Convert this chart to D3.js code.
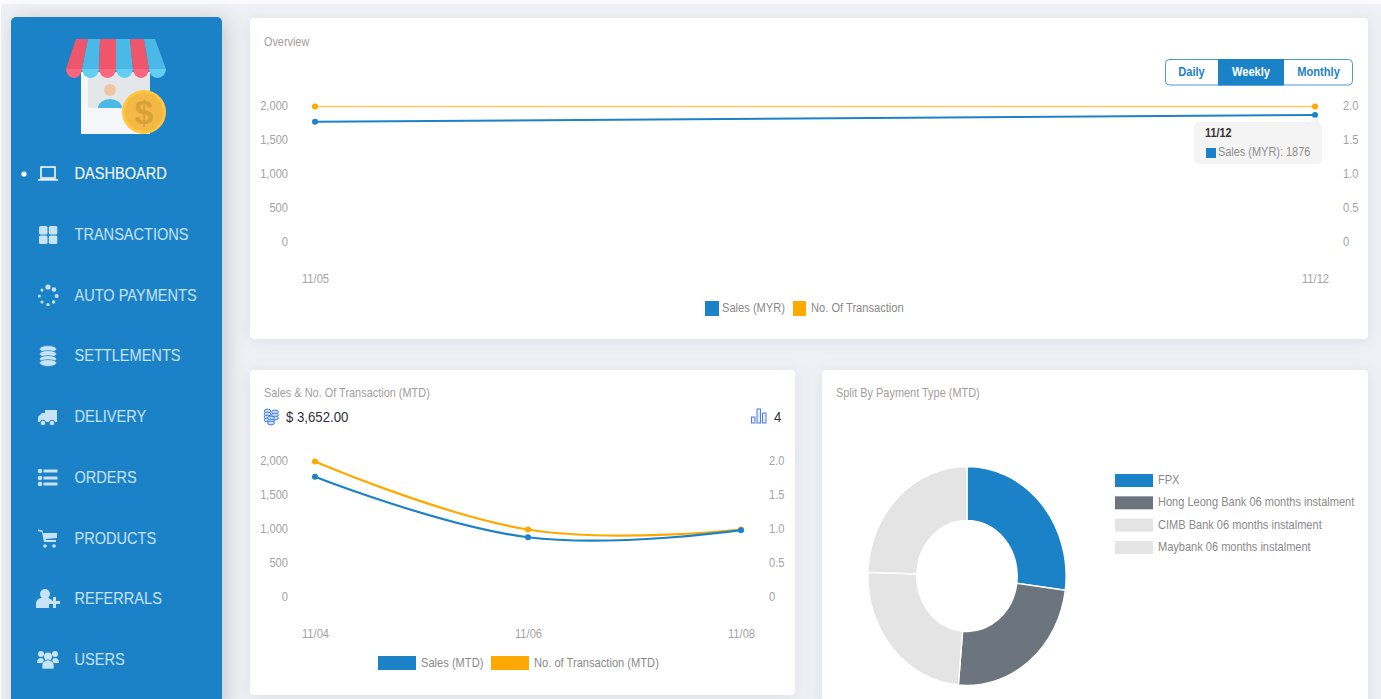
<!DOCTYPE html>
<html>
<head>
<meta charset="utf-8">
<script src="https://cdnjs.cloudflare.com/ajax/libs/d3/7.8.5/d3.min.js"></script>
<style>
html, body { margin: 0; padding: 0; background: #f0f1f6; overflow: hidden; }
svg { display: block; font-family: "Liberation Sans", Arial, sans-serif; }
.card { filter: drop-shadow(0 2px 8px rgba(60, 70, 100, 0.10)); }
.side { filter: drop-shadow(4px 2px 10px rgba(40, 50, 70, 0.22)); }
.axis path, .axis line { display: none; }
</style>
</head>
<body>
<svg id="chart" width="1381" height="699"></svg>
<script>
var menuLabels = ["DASHBOARD", "TRANSACTIONS", "AUTO PAYMENTS", "SETTLEMENTS", "DELIVERY", "ORDERS", "PRODUCTS", "REFERRALS", "USERS"];

var overviewDates = ["11/05", "11/12"];
var overviewSales = [1776, 1876];
var overviewCount = [2, 2];

var mtdDates = ["11/04", "11/06", "11/08"];
var mtdSales = [1776, 886, 990];
var mtdCount = [2, 1, 1];

var salesTicks = [0, 500, 1000, 1500, 2000];
var countTicks = [0, 0.5, 1, 1.5, 2];

var rangeButtons = ["Daily", "Weekly", "Monthly"];

var payTypes = ["FPX", "Hong Leong Bank 06 months instalment", "CIMB Bank 06 months instalment", "Maybank 06 months instalment"];
var payValues = [97.5, 87.5, 87, 88];
var payColors = ["#1c82c8", "#6c757d", "#e4e4e4", "#e4e4e4"];

var BLUE = "#1c82c8", ORANGE = "#ffa800", GREY = "#a3a3a3";
// the reference screenshot is squeezed horizontally, text follows it
var SQUEEZE = 0.905;

var svg = d3.select("#chart");

function label(g, x, y, str, size, fill, anchor, weight) {
	return g.append("text")
		.attr("transform", "translate(" + x + "," + y + ") scale(" + SQUEEZE + ",1)")
		.attr("font-size", size)
		.attr("fill", fill)
		.attr("text-anchor", anchor || "start")
		.attr("font-weight", weight || "normal")
		.text(str);
}

function box(g, x, y, w, h, r, fill) {
	return g.append("rect").attr("x", x).attr("y", y).attr("width", w).attr("height", h).attr("rx", r).attr("fill", fill);
}

// page background and cards
box(svg, 0, 0, 1381, 4, 0, "#fbfbfd");
box(svg, 0, 0, 1, 699, 0, "#ffffff");
box(svg.append("g").attr("class", "card"), 250, 18, 1118, 321, 4, "#fff");
box(svg.append("g").attr("class", "card"), 250, 370, 545, 325, 4, "#fff");
box(svg.append("g").attr("class", "card"), 822, 370, 546, 340, 4, "#fff");
box(svg.append("g").attr("class", "side"), 11, 17, 211, 700, 5, BLUE);

// shop logo
function drawLogo() {
	var g = svg.append("g");
	box(g, 81, 72, 69, 62, 0, "#f4f6f9");
	box(g, 88, 72, 62, 36, 2, "#e3e7ea");
	g.append("circle").attr("cx", 110).attr("cy", 90).attr("r", 6).attr("fill", "#f0c6a2");
	g.append("path").attr("d", "M98,108 A12,9 0 0 1 122,108 Z").attr("fill", "#4ab9e8");
	var tops = [76, 88, 100, 116, 130, 144, 155];
	var bots = [66, 82, 99, 116, 133, 149, 166];
	for (var i = 0; i < 6; i++) {
		var c = i % 2 ? "#4ab9e8" : "#ef566b";
		var c2 = i % 2 ? "#62cff0" : "#f8677f";
		var w = (bots[i + 1] - bots[i]) / 2;
		g.append("path").attr("d", "M" + tops[i] + ",39 L" + tops[i + 1] + ",39 L" + bots[i + 1] + ",69 L" + bots[i] + ",69 Z").attr("fill", c);
		g.append("path").attr("d", "M" + bots[i] + ",69 L" + bots[i + 1] + ",69 A" + w + ",9 0 0 1 " + bots[i] + ",69 Z").attr("fill", c2);
	}
	g.append("circle").attr("cx", 144).attr("cy", 112).attr("r", 22).attr("fill", "#fdc741");
	g.append("circle").attr("cx", 144).attr("cy", 112).attr("r", 19).attr("fill", "#f4b944");
	g.append("text").attr("x", 144).attr("y", 124).attr("font-size", 34).attr("font-weight", "bold").attr("fill", "#d9a13c").attr("text-anchor", "middle").text("$");
}
drawLogo();

// sidebar icons, each drawn around its own centre
var menuIcons = [
	function (g, c) {
		g.append("rect").attr("x", -7).attr("y", -7).attr("width", 14).attr("height", 11).attr("fill", "none").attr("stroke", c).attr("stroke-width", 1.5);
		box(g, -10, 5, 20, 1.6, 0, c);
	},
	function (g, c) {
		box(g, -9, -9, 8.5, 8.5, 1.5, c); box(g, 0.8, -9, 8.5, 8.5, 1.5, c);
		box(g, -9, 0.6, 8.5, 8.5, 1.5, c); box(g, 0.8, 0.6, 8.5, 8.5, 1.5, c);
	},
	function (g, c) {
		[[0, -9, 2.6], [6, -6.5, 2.3], [8.6, 0, 2], [5.6, 6, 1.7], [0, 8.6, 1.7], [-6, 6, 1.5], [-8.6, 0, 1.5], [-6, -6, 1.5]].forEach(function (p) {
			g.append("circle").attr("cx", p[0]).attr("cy", p[1]).attr("r", p[2]).attr("fill", c);
		});
	},
	function (g, c) {
		[-7, -2, 3, 7].forEach(function (y) {
			g.append("ellipse").attr("cx", 0).attr("cy", y).attr("rx", 8.5).attr("ry", 3.4).attr("fill", c).attr("stroke", BLUE).attr("stroke-width", 0.7);
		});
	},
	function (g, c) {
		g.append("path").attr("d", "M-3,-7 L9,-7 L9,5 L-10,5 L-10,0 L-6,-4 L-3,-4 Z").attr("fill", c);
		[-5, 4].forEach(function (x) {
			g.append("circle").attr("cx", x).attr("cy", 6).attr("r", 2.8).attr("fill", c).attr("stroke", BLUE).attr("stroke-width", 1);
		});
	},
	function (g, c) {
		[-7, 0, 6].forEach(function (y) {
			g.append("circle").attr("cx", -8).attr("cy", y).attr("r", 2.3).attr("fill", c);
			box(g, -4.5, y - 1.6, 14, 3.2, 0.5, c);
		});
	},
	function (g, c) {
		g.append("path").attr("d", "M-10,-8 L-6,-7 L-4,3 L8,3 L8,1 L-2,1 L-2,0 L9,-1 L9,-6 L-5,-6 L-5.5,-8.5 L-10,-9.5 Z").attr("fill", c);
		[-3, 6].forEach(function (x) {
			g.append("circle").attr("cx", x).attr("cy", 7).attr("r", 1.8).attr("fill", c);
		});
	},
	function (g, c) {
		g.append("circle").attr("cx", -3).attr("cy", -5).attr("r", 5).attr("fill", c);
		g.append("path").attr("d", "M-12,9 L-12,4 Q-11,-1 -6,-1 L0,-1 Q4,0 5,3 L1,3 L1,9 Z").attr("fill", c);
		box(g, 1, 2, 11, 3, 0, c); box(g, 5, -2, 3, 11, 0, c);
	},
	function (g, c) {
		[[-7, -6, 3], [7, -6, 3], [0, -3.5, 4]].forEach(function (p) {
			g.append("circle").attr("cx", p[0]).attr("cy", p[1]).attr("r", p[2]).attr("fill", c);
		});
		g.append("path").attr("d", "M-11,3 Q-11,-2 -7,-2 Q-4,-2 -4,3 Z M11,3 Q11,-2 7,-2 Q4,-2 4,3 Z").attr("fill", c);
		g.append("path").attr("d", "M-6,9 L-6,4 Q-5,0 0,0 Q5,0 6,4 L6,9 Z").attr("fill", c).attr("stroke", BLUE).attr("stroke-width", 0.7);
	}
];

var menuY = d3.scalePoint().domain(menuLabels).range([174, 660]);

menuLabels.forEach(function (name, i) {
	var on = i === 0;
	var colour = on ? "#ffffff" : "#c8e3f6";
	var y = Math.round(menuY(name));
	menuIcons[i](svg.append("g").attr("transform", "translate(48," + y + ")"), colour);
	label(svg, 74.5, y + 5, name, 16.1, colour);
});
svg.append("circle").attr("cx", 24).attr("cy", 174).attr("r", 2.6).attr("fill", "#fff");

// two-axis line chart used by the overview and MTD cards
function lineChart(opt) {
	var g = svg.append("g");
	var x = d3.scalePoint().domain(opt.dates).range(opt.xRange);
	var yL = d3.scaleLinear().domain([0, 2000]).range(opt.yRange);
	var yR = d3.scaleLinear().domain([0, 2]).range(opt.yRange);

	function squeezeText(sel) {
		sel.selectAll("text").attr("transform", "scale(" + SQUEEZE + ",1)").attr("fill", GREY).attr("font-size", 12.3).attr("font-family", null);
	}

	g.append("g").attr("class", "axis").attr("font-family", null)
		.attr("transform", "translate(" + opt.leftX + "," + opt.tickShift + ")")
		.call(d3.axisLeft(yL).tickValues(salesTicks).tickSize(0).tickPadding(0).tickFormat(d3.format(",")))
		.call(squeezeText);

	g.append("g").attr("class", "axis").attr("font-family", null)
		.attr("transform", "translate(" + opt.rightX + "," + opt.tickShift + ")")
		.call(d3.axisRight(yR).tickValues(countTicks).tickSize(0).tickPadding(0).tickFormat(function (d) { return d === 0 ? "0" : d.toFixed(1); }))
		.call(squeezeText);

	g.append("g").attr("class", "axis").attr("font-family", null)
		.attr("transform", "translate(0," + opt.dateY + ")")
		.call(d3.axisBottom(x).tickSize(0).tickPadding(0))
		.call(squeezeText);

	var series = [
		{ values: opt.count, y: yR, colour: opt.countLine, width: opt.countWidth },
		{ values: opt.sales, y: yL, colour: BLUE, width: opt.salesWidth }
	];
	series.forEach(function (s) {
		var line = d3.line()
			.x(function (d, i) { return x(opt.dates[i]); })
			.y(function (d) { return s.y(d); })
			.curve(d3.curveCardinal.tension(-0.2));
		g.append("path").datum(s.values).attr("d", line)
			.attr("fill", "none").attr("stroke", s.colour).attr("stroke-width", s.width);
	});
	[{ values: opt.count, y: yR, colour: ORANGE }, { values: opt.sales, y: yL, colour: BLUE }].forEach(function (s) {
		g.selectAll(null).data(s.values).enter().append("circle")
			.attr("cx", function (d, i) { return x(opt.dates[i]); })
			.attr("cy", function (d) { return s.y(d); })
			.attr("r", 3).attr("fill", s.colour);
	});
	return { x: x, yL: yL, yR: yR };
}

// overview card
label(svg, 264, 46, "Overview", 12, "#a39e9e");
var over = lineChart({
	dates: overviewDates, sales: overviewSales, count: overviewCount,
	xRange: [315, 1315], yRange: [242.5, 106.5], leftX: 288, rightX: 1343, dateY: 274, tickShift: -0.5,
	salesWidth: 2, countWidth: 1.6, countLine: "#ffc766"
});

var btnX = d3.scaleOrdinal().domain(rangeButtons).range([[1165, 53], [1218, 66], [1284, 69]]);
box(svg, 1165.5, 59.5, 187, 25.5, 4, "#fff").attr("stroke", "#4a9bd3").attr("stroke-width", 1);
rangeButtons.forEach(function (name) {
	var b = btnX(name), active = name === "Weekly";
	if (active) box(svg, b[0], 59, b[1], 26.5, 0, BLUE);
	label(svg, b[0] + b[1] / 2, 76, name, 12.3, active ? "#fff" : BLUE, "middle", "bold");
});

// hover tooltip on the last overview point
var tipX = over.x(overviewDates[1]);
svg.append("path").attr("fill", "#f4f4f4")
	.attr("d", d3.line()([[tipX - 5, 122], [tipX, 117], [tipX + 5, 122]]));
box(svg, 1194, 122, 128, 42, 5, "#f4f4f4");
label(svg, 1205, 137, overviewDates[1], 12, "#333", "start", "bold");
box(svg, 1206, 148, 10, 10, 0, BLUE);
label(svg, 1218, 156, "Sales (MYR): " + overviewSales[1], 12.1, "#8f8f8f");

box(svg, 705, 301, 14, 15, 0, BLUE);
label(svg, 722, 312, "Sales (MYR)", 12.3, "#8a8a8a");
box(svg, 793, 301, 13, 15, 0, ORANGE);
label(svg, 811, 312, "No. Of Transaction", 12.3, "#8a8a8a");

// MTD card
label(svg, 264, 397, "Sales & No. Of Transaction (MTD)", 12.1, "#a39e9e");
var coins = svg.append("g").attr("fill", "#cfe0fb").attr("stroke", "#3f7fd8").attr("stroke-width", 1);
[[267.5, 411], [267.5, 414], [267.5, 417], [267.5, 420], [275, 412], [275, 415], [275, 418], [271, 418], [271, 421], [271, 423]].forEach(function (p) {
	coins.append("ellipse").attr("cx", p[0]).attr("cy", p[1]).attr("rx", 3.4).attr("ry", 1.9);
});
label(svg, 286, 422, "$ " + d3.format(",.2f")(d3.sum(mtdSales)), 14.6, "#2f2f3a");
[[751.5, 417, 6], [757, 409, 14], [762.5, 413, 10]].forEach(function (b) {
	svg.append("rect").attr("x", b[0]).attr("y", b[1]).attr("width", 3.5).attr("height", b[2])
		.attr("fill", "#e4edfd").attr("stroke", "#4c7fe0").attr("stroke-width", 1);
});
label(svg, 774, 422, d3.sum(mtdCount), 14.6, "#2f2f3a");

lineChart({
	dates: mtdDates, sales: mtdSales, count: mtdCount,
	xRange: [315, 741], yRange: [597.5, 461.5], leftX: 288, rightX: 769, dateY: 629, tickShift: -0.5,
	salesWidth: 2.2, countWidth: 2.2, countLine: ORANGE
});

box(svg, 378, 656, 38, 14, 0, BLUE);
label(svg, 421, 667, "Sales (MTD)", 12.3, "#8a8a8a");
box(svg, 491, 656, 38, 14, 0, ORANGE);
label(svg, 534, 667, "No. of Transaction (MTD)", 12.3, "#8a8a8a");

// payment split card, doughnut is squeezed like the rest of the picture
label(svg, 836, 397, "Split By Payment Type (MTD)", 12.1, "#a39e9e");
var pie = d3.pie().sort(null)(payValues);
var arc = d3.arc().innerRadius(55.5).outerRadius(109.5);
svg.append("g")
	.attr("transform", "translate(967,576) scale(" + SQUEEZE + ",1)")
	.selectAll("path").data(pie).enter().append("path")
	.attr("d", arc)
	.attr("fill", function (d, i) { return payColors[i]; })
	.attr("stroke", "#fff").attr("stroke-width", 1.5);

var legendY = d3.scalePoint().domain(payTypes).range([480.5, 547.5]);
payTypes.forEach(function (name, i) {
	box(svg, 1115, legendY(name) - 6.5, 38, 13, 0, payColors[i]);
	label(svg, 1158, legendY(name) + 3.5, name, 12.2, "#8a8a8a");
});
</script>
</body>
</html>
